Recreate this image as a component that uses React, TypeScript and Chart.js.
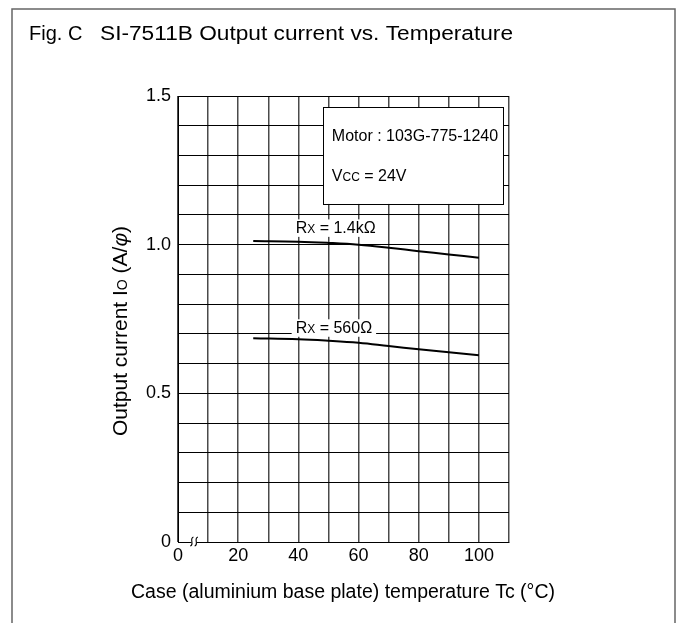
import React, { useEffect, useRef } from "react";
import { Chart, registerables } from "chart.js";

Chart.register(...registerables);

// ---- data ----
const temperatures = [25, 40, 50, 60, 70, 80, 90, 100];
const current1k4 = [1.012, 1.01, 1.006, 1.0, 0.99, 0.978, 0.967, 0.956];
const current560 = [0.685, 0.682, 0.677, 0.67, 0.659, 0.648, 0.638, 0.628];
const seriesValues = ["1.4kΩ", "560Ω"];
const seriesLabelX = [39.1, 39.1];
const seriesLabelY = [1.038, 0.702];
const xLabelTicks = [0, 20, 40, 60, 80, 100];
const yLabelTicks = [0, 0.5, 1.0, 1.5];
const figureTag = "Fig. C";
const figureTitle = "SI-7511B Output current vs. Temperature";
const motorText = "Motor : 103G-775-1240";
const vccValue = "24V";
const xTitle = "Case (aluminium base plate) temperature Tc (°C)";
const legendBoxX = [48.3, 108.1];
const legendBoxY = [1.462, 1.137];

const FONT = '"Liberation Sans", Arial, Helvetica, sans-serif';

type Part = [string, number, string?];

function measureParts(ctx: CanvasRenderingContext2D, parts: Part[]) {
  let w = 0;
  for (const [t, size, style] of parts) {
    ctx.font = `${style ?? ""} ${size}px ${FONT}`;
    w += ctx.measureText(t).width;
  }
  return w;
}

function drawParts(ctx: CanvasRenderingContext2D, parts: Part[], x: number, y: number) {
  let cx = x;
  for (const [t, size, style] of parts) {
    ctx.font = `${style ?? ""} ${size}px ${FONT}`;
    ctx.fillText(t, cx, y);
    cx += ctx.measureText(t).width;
  }
  return cx - x;
}

const figurePlugin = {
  id: "figurePlugin",
  beforeDraw(chart: any) {
    const ctx: CanvasRenderingContext2D = chart.ctx;
    ctx.save();
    ctx.fillStyle = "#fff";
    ctx.fillRect(0, 0, chart.width, chart.height);
    // outer frame (open at the bottom)
    ctx.strokeStyle = "#666";
    ctx.lineWidth = 1.5;
    ctx.beginPath();
    ctx.moveTo(12, chart.height + 2);
    ctx.lineTo(12, 9);
    ctx.lineTo(675, 9);
    ctx.lineTo(675, chart.height + 2);
    ctx.stroke();

    ctx.fillStyle = "#000";
    ctx.textBaseline = "alphabetic";
    ctx.textAlign = "left";
    // title
    ctx.font = `20px ${FONT}`;
    ctx.fillText(figureTag, 29, 39.5);
    const w = ctx.measureText(figureTitle).width;
    const sx = Math.min(1.15, Math.max(0.9, 413 / w));
    ctx.save();
    ctx.translate(100, 39.5);
    ctx.scale(sx, 1);
    ctx.fillText(figureTitle, 0, 0);
    ctx.restore();

    // x title
    ctx.font = `19.5px ${FONT}`;
    ctx.textAlign = "center";
    ctx.fillText(xTitle, 343, 597.5);
    ctx.textAlign = "left";

    // y title
    const yParts: Part[] = [
      ["Output current I", 21],
      ["O", 14],
      [" (A/", 21],
      ["φ", 21, "italic"],
      [")", 21],
    ];
    const tw = measureParts(ctx, yParts);
    ctx.save();
    ctx.translate(127, 331 + tw / 2);
    ctx.rotate(-Math.PI / 2);
    drawParts(ctx, yParts, 0, 0);
    ctx.restore();
    ctx.restore();
  },
  afterDraw(chart: any) {
    const ctx: CanvasRenderingContext2D = chart.ctx;
    const xs = chart.scales.x;
    const ys = chart.scales.y;
    ctx.save();

    // axis break mark near 5 °C
    const bx = xs.getPixelForValue(5) + 1;
    const by = ys.getPixelForValue(0) - 0.5;
    ctx.fillStyle = "#fff";
    ctx.fillRect(bx - 2.5, by - 1.5, 5, 3);
    ctx.strokeStyle = "#000";
    ctx.lineWidth = 1.1;
    for (const dx of [-2.2, 2.2]) {
      const cx = bx + dx;
      ctx.beginPath();
      ctx.moveTo(cx + 1.6, by - 4.5);
      ctx.bezierCurveTo(cx - 3, by - 3, cx + 3, by + 3, cx - 1.6, by + 4.5);
      ctx.stroke();
    }

    // legend box
    const lx0 = xs.getPixelForValue(legendBoxX[0]);
    const lx1 = xs.getPixelForValue(legendBoxX[1]);
    const ly0 = ys.getPixelForValue(legendBoxY[0]);
    const ly1 = ys.getPixelForValue(legendBoxY[1]);
    ctx.fillStyle = "#fff";
    ctx.fillRect(lx0, ly0, lx1 - lx0, ly1 - ly0);
    ctx.strokeStyle = "#000";
    ctx.lineWidth = 1;
    ctx.strokeRect(Math.round(lx0) + 0.5, Math.round(ly0) + 0.5, Math.round(lx1 - lx0), Math.round(ly1 - ly0));
    ctx.fillStyle = "#000";
    ctx.textBaseline = "alphabetic";
    ctx.textAlign = "left";
    drawParts(ctx, [[motorText, 16]], lx0 + 8.5, ly0 + 34);
    drawParts(ctx, [["V", 16], ["CC", 12], [" = " + vccValue, 16]], lx0 + 8.5, ly0 + 73.5);

    // series labels
    for (let i = 0; i < seriesValues.length; i++) {
      const parts: Part[] = [["R", 16], ["X", 12], [" = " + seriesValues[i], 16]];
      const px = xs.getPixelForValue(seriesLabelX[i]);
      const py = ys.getPixelForValue(seriesLabelY[i]);
      const w = measureParts(ctx, parts);
      ctx.fillStyle = "#fff";
      ctx.fillRect(px - 4, py - 14, w + 8, 17.5);
      ctx.fillStyle = "#000";
      drawParts(ctx, parts, px, py);
    }
    ctx.restore();
  },
};

export default function App() {
  const canvasRef = useRef<HTMLCanvasElement | null>(null);

  useEffect(() => {
    const canvas = canvasRef.current;
    if (!canvas) return;
    const mk = (vals: number[]) => temperatures.map((t, i) => ({ x: t, y: vals[i] }));
    const chart = new Chart(canvas, {
      type: "line",
      data: {
        datasets: [
          {
            label: "Rx = " + seriesValues[0],
            data: mk(current1k4),
            borderColor: "#000",
            borderWidth: 2,
            pointRadius: 0,
            tension: 0.4,
            fill: false,
          },
          {
            label: "Rx = " + seriesValues[1],
            data: mk(current560),
            borderColor: "#000",
            borderWidth: 2,
            pointRadius: 0,
            tension: 0.4,
            fill: false,
          },
        ],
      },
      options: {
        responsive: false,
        maintainAspectRatio: false,
        animation: false,
        devicePixelRatio: 1,
        layout: { padding: { left: 0, top: 96, right: 170, bottom: 41 } },
        plugins: {
          legend: { display: false },
          tooltip: { enabled: false },
          title: { display: false },
        },
        scales: {
          x: {
            type: "linear",
            min: 0,
            max: 110,
            afterFit: (s: any) => {
              s.height = 40;
            },
            ticks: {
              stepSize: 10,
              autoSkip: false,
              maxRotation: 0,
              minRotation: 0,
              padding: 3.5,
              color: "#000",
              font: { family: FONT, size: 18 },
              callback: (v: any) => (xLabelTicks.includes(Number(v)) ? String(v) : ""),
            },
            grid: { color: "#4a4a4a", lineWidth: 1.5, drawTicks: false },
            border: { display: true, color: "#000", width: 1 },
          },
          y: {
            type: "linear",
            min: 0,
            max: 1.5,
            afterFit: (s: any) => {
              s.width = 178;
            },
            ticks: {
              stepSize: 0.1,
              autoSkip: false,
              padding: 7,
              color: "#000",
              font: { family: FONT, size: 18 },
              callback: (v: any) => {
                const t = yLabelTicks.find((k) => Math.abs(k - Number(v)) < 1e-6);
                if (t === undefined) return "";
                return t === 0 ? "0" : t.toFixed(1);
              },
            },
            grid: { color: "#000", lineWidth: 1, drawTicks: false },
            border: { display: true, color: "#000", width: 1 },
          },
        },
      },
      plugins: [figurePlugin],
    } as any);
    return () => chart.destroy();
  }, []);

  return (
    <div style={{ position: "fixed", left: 0, top: 0, width: 679, height: 623, background: "#fff" }}>
      <canvas ref={canvasRef} width={679} height={623} style={{ display: "block", width: 679, height: 623 }} />
    </div>
  );
}
